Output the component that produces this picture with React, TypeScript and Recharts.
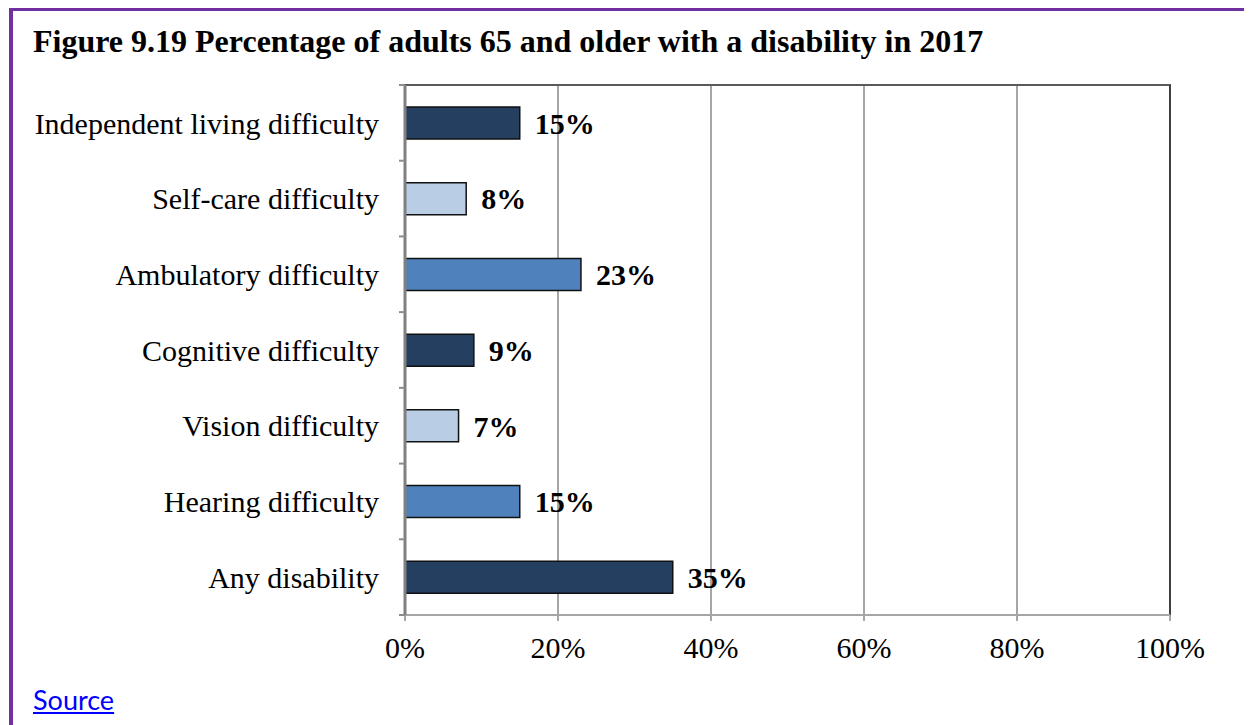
import { BarChart, Bar, XAxis, YAxis, CartesianGrid, Cell, LabelList, ReferenceArea, ReferenceLine } from "recharts";

const categories = [
  "Independent living difficulty",
  "Self-care difficulty",
  "Ambulatory difficulty",
  "Cognitive difficulty",
  "Vision difficulty",
  "Hearing difficulty",
  "Any disability",
];
const percentages = [15, 8, 23, 9, 7, 15, 35];
const barColors = ["#243F60", "#B9CDE5", "#4F81BD", "#243F60", "#B9CDE5", "#4F81BD", "#243F60"];
const xTicks = [0, 20, 40, 60, 80, 100];

const data = categories.map((name, i) => ({ name, value: percentages[i] }));

const SERIF = "'Liberation Serif', 'Times New Roman', serif";
const TICK_SIZE = 6;
const TICK_MARGIN = 20;

// category labels sit at band centres, but the tick marks go on band boundaries
function CategoryTick(props: any) {
  const { x, y, payload, index, visibleTicksCount } = props;
  const axisX = x + TICK_SIZE + TICK_MARGIN;
  const half = payload.offset ?? 530 / 14;
  return (
    <g>
      <line x1={axisX - TICK_SIZE} x2={axisX} y1={y - half} y2={y - half} stroke="#8c8c8c" strokeWidth={2} />
      {index === visibleTicksCount - 1 && (
        <line x1={axisX - TICK_SIZE} x2={axisX} y1={y + half} y2={y + half} stroke="#8c8c8c" strokeWidth={2} />
      )}
      <text x={x} y={y} dy="0.355em" textAnchor="end" fontFamily={SERIF} fontSize={30} fill="#000">
        {payload.value}
      </text>
    </g>
  );
}

export default function App() {
  return (
    <div style={{ position: "relative", width: 1244, height: 717 }}>
      <div style={{ position: "absolute", left: 1, top: -1, width: 1243, height: 4, background: "#7030A0" }} />
      <div style={{ position: "absolute", left: 1, top: -1, width: 4, height: 718, background: "#7030A0" }} />
      <div
        style={{
          position: "absolute",
          left: 25,
          top: 15,
          fontFamily: SERIF,
          fontWeight: "bold",
          fontSize: 32,
          lineHeight: "36px",
          whiteSpace: "nowrap",
          color: "#000",
        }}
      >
        Figure 9.19 Percentage of adults 65 and older with a disability in 2017
      </div>
      <div style={{ position: "absolute", left: 0, top: 0 }}>
        <BarChart
          width={1200}
          height={690}
          data={data}
          layout="vertical"
          margin={{ top: 77, right: 38, bottom: 43, left: 7 }}
          barCategoryGap={0}
        >
          <CartesianGrid horizontal={false} stroke="#a6a6a6" strokeWidth={2} />
          <ReferenceArea x1={0} x2={100} fill="none" fillOpacity={0} stroke="#5a5a5a" strokeWidth={2} />
          <ReferenceLine x={100} stroke="#404040" strokeWidth={2} />
          <XAxis
            type="number"
            domain={[0, 100]}
            ticks={xTicks}
            tickFormatter={(v) => `${v}%`}
            axisLine={{ stroke: "#a6a6a6", strokeWidth: 2 }}
            tickLine={{ stroke: "#a6a6a6", strokeWidth: 2 }}
            tickSize={6}
            tickMargin={16}
            height={40}
            tick={{ fill: "#000", fontSize: 30, fontFamily: SERIF }}
          />
          <YAxis
            type="category"
            dataKey="name"
            width={390}
            axisLine={{ stroke: "#808080", strokeWidth: 3 }}
            tickLine={false}
            tickSize={TICK_SIZE}
            tickMargin={TICK_MARGIN}
            tick={<CategoryTick />}
            interval={0}
          />
          <Bar dataKey="value" barSize={32} stroke="#111" strokeWidth={1.5} isAnimationActive={false}>
            {data.map((d, i) => (
              <Cell key={d.name} fill={barColors[i]} />
            ))}
            <LabelList
              dataKey="value"
              position="right"
              offset={15}
              formatter={(v: any) => `${v}%`}
              style={{ fontFamily: SERIF, fontWeight: "bold", fontSize: 30, fill: "#000" }}
            />
          </Bar>
        </BarChart>
      </div>
      <a
        href="#"
        style={{
          position: "absolute",
          left: 25,
          top: 675,
          fontFamily: "Lato, 'Open Sans', sans-serif",
          fontSize: 27,
          color: "#0000ff",
          textDecoration: "underline",
        }}
      >
        Source
      </a>
    </div>
  );
}
